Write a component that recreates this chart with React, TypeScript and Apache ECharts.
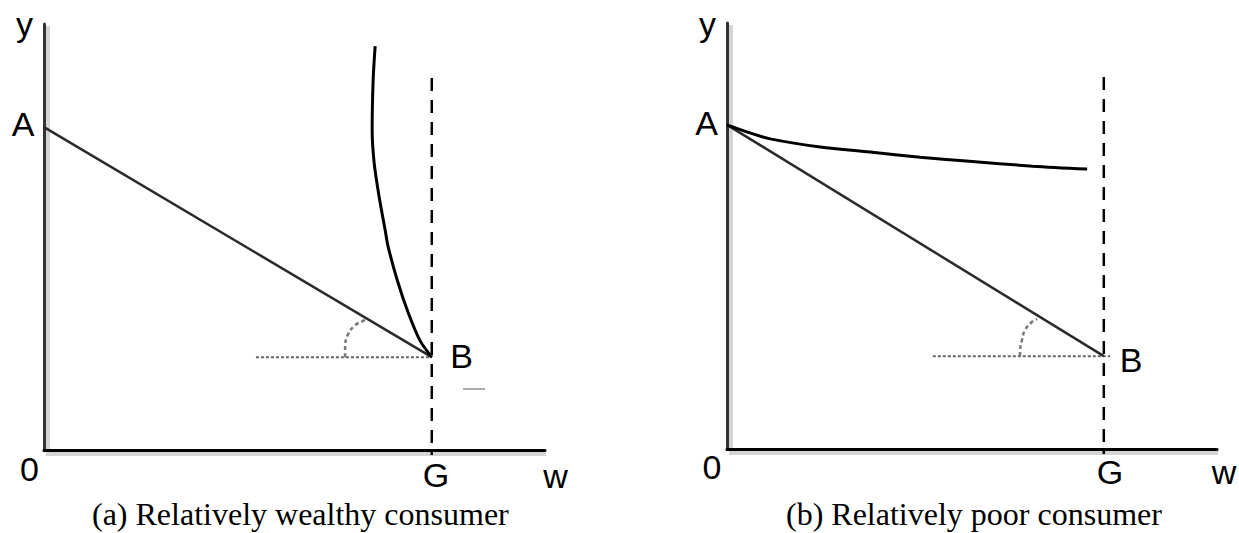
import React, { useEffect, useRef } from "react";
import * as echarts from "echarts";

// ---- data (abstract units 0..100 on both axes of each panel) ----
const axisMin = 0;
const axisMax = 100;

// (a) relatively wealthy consumer
const wealthyStraight: number[][] = [[0, 75.8], [77.4, 21.8]];
const wealthyCurve: number[][] = [
  [66.1, 94.8], [65.7, 86.9], [65.5, 75.1], [65.9, 67.4], [66.9, 59.4],
  [68.1, 51.6], [68.7, 47.7], [70.5, 39.9], [72.7, 32.2], [75.0, 25.8], [77.4, 21.8],
];
const wealthyGuide: number[][] = [[77.4, 87.3], [77.4, -1.2]];
const wealthyDotted: number[][] = [[42.3, 21.8], [77.4, 21.8]];
const wealthyArc: number[][] = [
  [60.1, 21.8], [60.1, 24.2], [60.7, 27.2], [62.1, 29.3], [63.7, 30.3], [64.3, 30.8],
];

// (b) relatively poor consumer
const poorStraight: number[][] = [[0, 76.1], [76.9, 21.8]];
const poorCurve: number[][] = [
  [0, 76.1], [4.7, 74.2], [8.8, 72.8], [19.0, 70.9], [29.2, 69.7],
  [39.4, 68.5], [48.8, 67.6], [62.4, 66.4], [73.5, 65.7],
];
const poorGuide: number[][] = [[76.9, 87.3], [76.9, -1.2]];
const poorDotted: number[][] = [[42.0, 21.8], [78.2, 21.8]];
const poorArc: number[][] = [
  [59.8, 21.8], [59.8, 22.8], [60.2, 25.6], [60.8, 27.9], [62.2, 29.8], [63.3, 30.5],
];

const captions = ["(a) Relatively wealthy consumer", "(b) Relatively poor consumer"];
const pointLabels = ["y", "A", "B", "G", "w", "0"];

export default function App() {
  const ref = useRef<HTMLDivElement>(null);
  useEffect(() => {
    if (!ref.current) return;
    const chart = echarts.init(ref.current, null, { renderer: "svg" });

    const axisBase = (color: string) => ({
      min: axisMin,
      max: axisMax,
      type: "value" as const,
      axisLine: {
        show: true,
        onZero: false,
        lineStyle: { color, width: 3 },
      },
      axisTick: { show: false },
      axisLabel: { show: false },
      splitLine: { show: false },
    });

    const line = (
      data: number[][],
      idx: number,
      style: any,
      smooth: number | boolean = false
    ) => ({
      type: "line",
      data,
      xAxisIndex: idx,
      yAxisIndex: idx,
      showSymbol: false,
      symbol: "none",
      smooth,
      clip: false,
      silent: true,
      lineStyle: style,
    });

    const straightStyle = { color: "#2a2a2a", width: 2.5 };
    const curveStyle = { color: "#000", width: 3 };
    const guideStyle = { color: "#000", width: 2.5, type: [13, 9] };
    const dottedStyle = { color: "#666", width: 2, type: [3, 2] };
    const arcStyle = { color: "#777", width: 2.5, type: [4, 3] };

    const txt = (s: string, x: number, y: number, size = 34, font = "'Liberation Sans', Arial, sans-serif", align = "center") => ({
      type: "text",
      x,
      y,
      silent: true,
      z: 10,
      style: {
        text: s,
        fill: "#000",
        font: `${size}px ${font}`,
        align,
        verticalAlign: "middle",
      },
    });

    const shadowLine = (x1: number, y1: number, x2: number, y2: number) => ({
      type: "line",
      silent: true,
      z: -1,
      shape: { x1, y1, x2, y2 },
      style: { stroke: "#d4d4d4", lineWidth: 4 },
    });

    const [ly, lA, lB, lG, lw, l0] = pointLabels;

    chart.setOption({
      animation: false,
      grid: [
        { left: 44, top: 24, width: 501, height: 426 },
        { left: 727, top: 23, width: 490, height: 426 },
      ],
      xAxis: [
        { ...axisBase("#000"), gridIndex: 0 },
        { ...axisBase("#000"), gridIndex: 1 },
      ],
      yAxis: [
        { ...axisBase("#333"), gridIndex: 0 },
        { ...axisBase("#333"), gridIndex: 1 },
      ],
      series: [
        line(wealthyGuide, 0, guideStyle),
        line(wealthyDotted, 0, dottedStyle),
        line(wealthyArc, 0, arcStyle, 0.4),
        line(wealthyStraight, 0, straightStyle),
        line(wealthyCurve, 0, curveStyle, 0.3),
        line(poorGuide, 1, guideStyle),
        line(poorDotted, 1, dottedStyle),
        line(poorArc, 1, arcStyle, 0.4),
        line(poorStraight, 1, straightStyle),
        line(poorCurve, 1, curveStyle, 0.3),
      ],
      graphic: [
        shadowLine(48, 26, 48, 453),
        shadowLine(46, 454, 546, 454),
        shadowLine(731, 25, 731, 452),
        shadowLine(729, 453, 1218, 453),
        txt(ly, 24.5, 24),
        txt(lA, 23, 123.5),
        txt(lB, 461.5, 355.5),
        txt(lG, 436, 474.5),
        txt(lw, 555.5, 475.5),
        txt(l0, 29.5, 468.5),
        txt(ly, 707.5, 24),
        txt(lA, 706.5, 123),
        txt(lB, 1131, 360),
        txt(lG, 1110, 472),
        txt(lw, 1224, 472),
        txt(l0, 712, 467),
        {
          type: "line",
          silent: true,
          shape: { x1: 463, y1: 389, x2: 485, y2: 389 },
          style: { stroke: "#aaa", lineWidth: 2 },
        },
        txt(captions[0], 92, 514, 32, "'Liberation Serif', 'Times New Roman', serif", "left"),
        txt(captions[1], 786, 514, 32, "'Liberation Serif', 'Times New Roman', serif", "left"),
      ],
    });
    return () => chart.dispose();
  }, []);
  return (
    <div
      ref={ref}
      style={{ position: "fixed", left: 0, top: 0, width: 1239, height: 533, background: "#fff" }}
    />
  );
}
